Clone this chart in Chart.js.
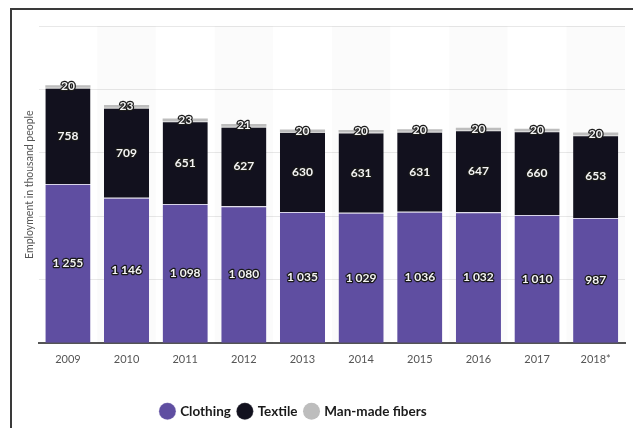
<!DOCTYPE html>
<html>
<head>
<meta charset="utf-8">
<script src="https://cdn.jsdelivr.net/npm/chart.js@4"></script>
<style>
  html, body { margin: 0; padding: 0; background: #fff; }
  #frame { position: absolute; left: 10px; top: 8px; width: 640px; height: 430px;
           border-left: 2px solid #3a3a3a; border-top: 2px solid #3a3a3a; }
  #wrap { position: absolute; left: 0; top: 0; width: 633px; height: 428px; }
</style>
</head>
<body>
<div id="frame"></div>
<div id="wrap"><canvas id="empChart"></canvas></div>
<script>
// employment in thousand people
const years = ['2009', '2010', '2011', '2012', '2013', '2014', '2015', '2016', '2017', '2018*'];
const clothing = [1255, 1146, 1098, 1080, 1035, 1029, 1036, 1032, 1010, 987];
const textile = [758, 709, 651, 627, 630, 631, 631, 647, 660, 653];
const fibers = [20, 23, 23, 21, 20, 20, 20, 20, 20, 20];

function fmt(n) {
  return String(n).replace(/\B(?=(\d{3})+(?!\d))/g, ' ');
}

// faint alternating column shading
const bands = {
  id: 'bands',
  beforeDatasetsDraw(chart) {
    const ctx = chart.ctx, x = chart.scales.x, area = chart.chartArea;
    const w = (area.right - area.left) / years.length;
    ctx.save();
    ctx.fillStyle = 'rgba(0,0,0,0.014)';
    years.forEach((y, i) => {
      if (i % 2 === 1) ctx.fillRect(x.getPixelForValue(i) - w / 2, area.top, w, area.bottom - area.top);
    });
    ctx.restore();
  }
};

// value labels inside segments
const barLabels = {
  id: 'barLabels',
  afterDatasetsDraw(chart) {
    const ctx = chart.ctx;
    ctx.save();
    ctx.font = 'bold 12px Lato';
    ctx.textAlign = 'center';
    ctx.textBaseline = 'middle';
    ctx.lineJoin = 'round';
    chart.data.datasets.forEach((ds, di) => {
      chart.getDatasetMeta(di).data.forEach((bar, i) => {
        const txt = fmt(ds.data[i]);
        const cy = (bar.y + bar.base) / 2;
        ctx.lineWidth = 2.5;
        ctx.strokeStyle = '#1a1a1a';
        ctx.strokeText(txt, bar.x, cy);
        ctx.fillStyle = '#f4f4f4';
        ctx.fillText(txt, bar.x, cy);
      });
    });
    ctx.restore();
  }
};

// legend sits a bit left of centre in the original
const legendShift = {
  id: 'legendShift',
  afterLayout(chart) {
    chart.legend.left -= 30;
    chart.legend.right -= 30;
  }
};

const segBorder = { top: 1, right: 0, bottom: 0, left: 0 };

new Chart(document.getElementById('empChart'), {
  type: 'bar',
  data: {
    labels: years,
    datasets: [
      { label: 'Clothing', data: clothing, backgroundColor: '#5f4ea1', borderColor: '#d8d4e8', borderWidth: segBorder, borderSkipped: false },
      { label: 'Textile', data: textile, backgroundColor: '#12111e', borderColor: '#d0d0d0', borderWidth: segBorder, borderSkipped: false },
      { label: 'Man-made fibers', data: fibers, backgroundColor: '#bdbdbd', borderWidth: 0 }
    ]
  },
  options: {
    responsive: true,
    maintainAspectRatio: false,
    animation: false,
    layout: { padding: { left: 23, right: 8, top: 26, bottom: 0 } },
    datasets: { bar: { categoryPercentage: 0.77, barPercentage: 1 } },
    scales: {
      x: {
        stacked: true,
        grid: { display: false, drawTicks: false },
        border: { color: '#555', width: 2 },
        ticks: { color: '#555', font: { family: 'Lato', size: 11 }, padding: 10 },
        afterFit: s => { s.height += 20; }
      },
      y: {
        stacked: true,
        min: 0,
        max: 2500,
        ticks: { display: false, stepSize: 500 },
        grid: { color: '#e8e8e8', drawTicks: false },
        border: { display: false },
        title: { display: true, text: 'Employment in thousand people', color: '#555',
                 font: { family: 'Lato', size: 10.5 }, padding: { top: 0, bottom: 3 } }
      }
    },
    plugins: {
      tooltip: { enabled: false },
      legend: {
        position: 'bottom',
        labels: {
          usePointStyle: true,
          pointStyle: 'circle',
          boxWidth: 12,
          boxHeight: 12,
          padding: 8,
          color: '#1a1a1a',
          font: { family: 'Lato', size: 13.5, weight: 'bold' }
        }
      }
    }
  },
  plugins: [bands, barLabels, legendShift]
});
</script>
</body>
</html>
